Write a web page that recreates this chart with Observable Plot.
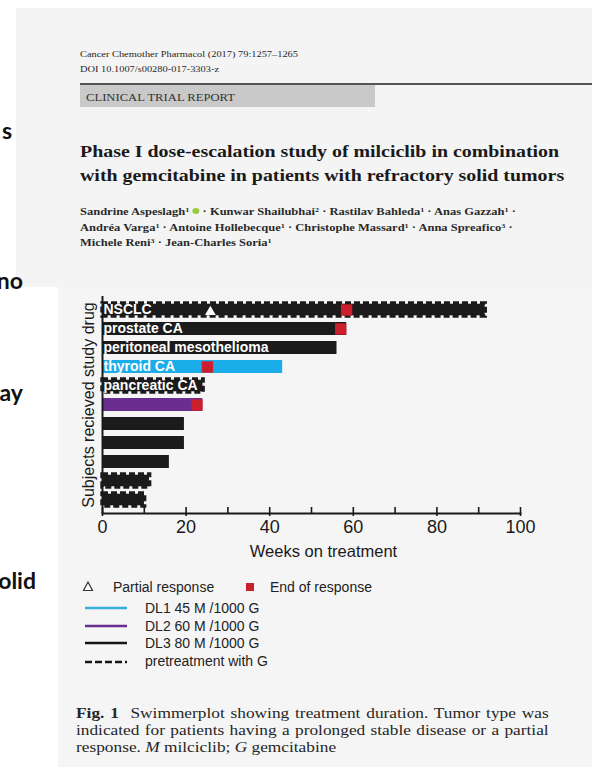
<!DOCTYPE html>
<html>
<head>
<meta charset="utf-8">
<script src="https://cdn.jsdelivr.net/npm/d3@7"></script>
<script src="https://cdn.jsdelivr.net/npm/@observablehq/plot@0.6"></script>
<style>
  html, body { margin: 0; padding: 0; }
  body { width: 592px; height: 767px; overflow: hidden; position: relative; background: #fff; }
  .abs { position: absolute; white-space: nowrap; }
  .serif { font-family: "Liberation Serif", "Times New Roman", serif; color: #262626; }
  .wide { transform: scaleX(1.17); transform-origin: 0 0; }
  .sans { font-family: "Liberation Sans", Arial, sans-serif; color: #222; }
  .slide { font-family: Lato, "Open Sans", sans-serif; font-weight: bold; font-size: 23px; color: #111; text-align: right; }
  sup { font-size: 65%; vertical-align: 0.45em; line-height: 0; }
  .orcid { display: inline-block; width: 6px; height: 6px; border-radius: 50%; background: #9ccc3c; vertical-align: 0.1em; }
  .just { text-align: justify; text-align-last: justify; white-space: normal; }
</style>
</head>
<body>
<!-- page panels -->
<div class="abs" style="left:16px; top:8px; width:576px; height:279px; background:#f4f4f4;"></div>
<div class="abs" style="left:58px; top:287px; width:534px; height:480px; background:#f5f5f5;"></div>

<!-- slide text fragments on the left edge -->
<div class="abs slide" style="left:-60px; width:72px; top:116px; line-height:28px;">s</div>
<div class="abs slide" style="left:-60px; width:83px; top:266px; line-height:28px;">no</div>
<div class="abs slide" style="left:-60px; width:83px; top:378px; line-height:28px;">ay</div>
<div class="abs slide" style="left:-60px; width:96px; top:566px; line-height:28px;">olid</div>

<!-- article header -->
<div class="abs serif wide" style="left:80px; top:47px; font-size:8.9px; line-height:14px;">Cancer Chemother Pharmacol (2017) 79:1257–1265</div>
<div class="abs serif wide" style="left:80px; top:62px; font-size:8.9px; line-height:14px;">DOI 10.1007/s00280-017-3303-z</div>
<div class="abs" style="left:80px; top:83px; width:512px; height:2px; background:#555;"></div>
<div class="abs" style="left:80px; top:85px; width:295px; height:22px; background:#c9c9c9;"></div>
<div class="abs serif wide" style="left:86px; top:89px; font-size:10.8px; line-height:16px; color:#333;">CLINICAL TRIAL REPORT</div>

<div class="abs serif wide" style="left:80px; top:140px; font-size:17px; line-height:23.5px; font-weight:bold; color:#1a1a1a;">Phase I dose-escalation study of milciclib in combination<br>with gemcitabine in patients with refractory solid tumors</div>

<div class="abs serif wide" style="left:80px; top:204px; font-size:10.7px; line-height:15.5px; font-weight:bold; color:#2a2a2a;">Sandrine Aspeslagh<sup>1</sup> <span class="orcid"></span> · Kunwar Shailubhai<sup>2</sup> · Rastilav Bahleda<sup>1</sup> · Anas Gazzah<sup>1</sup> ·<br>Andréa Varga<sup>1</sup> · Antoine Hollebecque<sup>1</sup> · Christophe Massard<sup>1</sup> · Anna Spreafico<sup>3</sup> ·<br>Michele Reni<sup>3</sup> · Jean-Charles Soria<sup>1</sup></div>

<!-- chart -->
<div id="chart" class="abs" style="left:0; top:280px;"></div>

<!-- legend -->
<svg class="abs" style="left:80px; top:578px;" width="190" height="95">
  <polygon points="8,4 12.5,12.5 3.5,12.5" fill="#fff" stroke="#333" stroke-width="1.2"/>
  <rect x="166" y="5" width="8" height="8" fill="#c8202c"/>
  <line x1="5" x2="47" y1="30" y2="30" stroke="#3aaed8" stroke-width="2.6"/>
  <line x1="5" x2="47" y1="48" y2="48" stroke="#6a2d90" stroke-width="2.6"/>
  <line x1="5" x2="47" y1="65" y2="65" stroke="#151515" stroke-width="2.6"/>
  <line x1="5" x2="47" y1="84" y2="84" stroke="#151515" stroke-width="2.6" stroke-dasharray="7,3"/>
</svg>
<div class="abs sans" style="left:113px; top:579px; font-size:14px; line-height:17px;">Partial response</div>
<div class="abs sans" style="left:270px; top:579px; font-size:14px; line-height:17px;">End of response</div>
<div id="legend-doses"></div>

<!-- figure caption -->
<div class="abs serif wide just" style="left:76px; top:705px; width:404px; font-size:14.8px; line-height:17px;"><b>Fig. 1</b>&nbsp; Swimmerplot showing treatment duration. Tumor type was</div>
<div class="abs serif wide just" style="left:76px; top:722px; width:404px; font-size:14.8px; line-height:17px;">indicated for patients having a prolonged stable disease or a partial</div>
<div class="abs serif wide" style="left:76px; top:739px; font-size:14.8px; line-height:17px;">response. <i>M</i> milciclib; <i>G</i> gemcitabine</div>

<script>
// One row per subject, top to bottom
const subjects = ["S1", "S2", "S3", "S4", "S5", "S6", "S7", "S8", "S9", "S10", "S11"];
const tumorTypes = ["NSCLC", "prostate CA", "peritoneal mesothelioma", "thyroid CA", "pancreatic CA", "", "", "", "", "", ""];
const weeksOnTreatment = [91.7, 58.4, 56.1, 43.1, 24.2, 24.0, 19.6, 19.6, 16.0, 11.4, 10.2];
const doseLevel = ["DL3", "DL3", "DL3", "DL1", "DL3", "DL2", "DL3", "DL3", "DL3", "DL3", "DL3"];
const pretreatedWithG = [true, false, false, false, true, false, false, false, false, true, true];

// Response events
const partialResponseSubjects = ["S1"];
const partialResponseWeeks = [25.8];
const endOfResponseSubjects = ["S1", "S2", "S4", "S6"];
const endOfResponseWeeks = [58.4, 57.0, 25.1, 22.6];

// Dose levels and their colours
const doseLevels = ["DL1", "DL2", "DL3"];
const doseLabels = ["DL1 45 M /1000 G", "DL2 60 M /1000 G", "DL3 80 M /1000 G", "pretreatment with G"];
const doseColors = ["#1badea", "#6a2d90", "#1b1b1b"];

// Axis ticks
const majorTicks = [0, 20, 40, 60, 80, 100];
const minorTicks = [0, 10, 20, 30, 40, 50, 60, 70, 80, 90, 100];

const rows = subjects.map((id, i) => ({
  id, label: tumorTypes[i], weeks: weeksOnTreatment[i], dose: doseLevel[i], pretreated: pretreatedWithG[i]
}));
const pretreatedRows = rows.filter(d => d.pretreated);
const labelRows = rows.filter(d => d.label);
const partialResponse = partialResponseSubjects.map((id, i) => ({id, week: partialResponseWeeks[i]}));
const endOfResponse = endOfResponseSubjects.map((id, i) => ({id, week: endOfResponseWeeks[i]}));

const marginTop = 16, marginBottom = 57, height = 290;
const frameHeight = height - marginTop - marginBottom;

const chart = Plot.plot({
  width: 592,
  height,
  marginLeft: 102,
  marginRight: 72,
  marginTop,
  marginBottom,
  style: {background: "transparent", fontFamily: "'Liberation Sans', Arial, sans-serif", color: "#1a1a1a"},
  x: {domain: [0, 100]},
  y: {type: "band", domain: subjects, paddingInner: 0.31, paddingOuter: 0.16, axis: null},
  color: {domain: doseLevels, range: doseColors},
  marks: [
    Plot.barX(rows, {x: "weeks", y: "id", fill: "dose"}),
    // pretreatment with gemcitabine: dashed outline round the bar
    Plot.barX(pretreatedRows, {x: "weeks", y: "id", fill: "none", stroke: "#f4f4f4", strokeWidth: 1.4}),
    Plot.barX(pretreatedRows, {x: "weeks", y: "id", fill: "none", stroke: "#1b1b1b", strokeWidth: 3.4, strokeDasharray: "6,3"}),
    Plot.text(labelRows, {x: 0, y: "id", text: "label", textAnchor: "start", dx: 1, fill: "white", fontSize: 14, fontWeight: "bold"}),
    Plot.dot(endOfResponse, {x: "week", y: "id", symbol: "square", fill: "#cc1f2d", r: 6.4}),
    Plot.dot(partialResponse, {x: "week", y: "id", symbol: "triangle", fill: "white", r: 4, dy: 2}),
    // axes
    Plot.ruleX([0], {stroke: "#1a1a1a", strokeWidth: 2}),
    Plot.frame({anchor: "bottom", stroke: "#1a1a1a", strokeWidth: 2}),
    Plot.ruleX(minorTicks, {insetTop: frameHeight - 6, stroke: "#1a1a1a", strokeWidth: 1.6}),
    Plot.axisX({ticks: majorTicks, tickSize: 3, tickPadding: 4, fontSize: 18, label: null, strokeWidth: 1.6}),
    Plot.text(["Weeks on treatment"], {text: d => d, frameAnchor: "bottom", lineAnchor: "middle", dx: 12, dy: 38, fontSize: 16.5}),
    Plot.text(["Subjects recieved study drug"], {text: d => d, frameAnchor: "left", textAnchor: "middle", lineAnchor: "middle", rotate: -90, dx: -14, fontSize: 16})
  ]
});
document.getElementById("chart").appendChild(chart);

// dose level legend labels
const legendTops = [600, 618, 635, 653];
const legendHost = document.getElementById("legend-doses");
doseLabels.forEach((t, i) => {
  const el = document.createElement("div");
  el.className = "abs sans";
  el.style.cssText = `left:145px; top:${legendTops[i]}px; font-size:14px; line-height:17px;`;
  el.textContent = t;
  legendHost.appendChild(el);
});
</script>
</body>
</html>
